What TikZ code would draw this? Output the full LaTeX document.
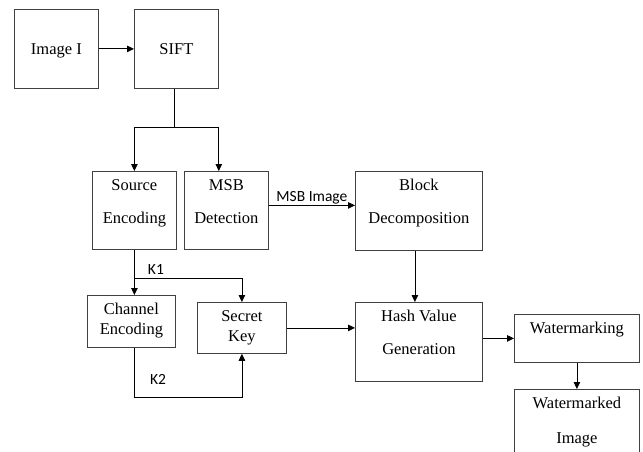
\documentclass[tikz,border=0pt]{standalone}
\usepackage{fontspec}
\setmainfont{Liberation Serif}
\newfontfamily\lblfont{Carlito}
\usetikzlibrary{arrows.meta}

\begin{document}
\begin{tikzpicture}[x=1pt, y=-1pt,
    blk/.style={draw=black!75, line width=0.8pt, inner sep=0pt, align=center,
        anchor=north west, font=\fontsize{16.5}{33}\selectfont},
    arr/.style={line width=0.8pt, -{Triangle[length=7pt,width=6.5pt]}},
    wire/.style={line width=0.8pt},
    lbl/.style={font=\lblfont\fontsize{15.5}{18}\selectfont, inner sep=1pt}]

    % --- Frame ---
    % One unit = one pixel of the reference, y runs downwards
    \useasboundingbox (0,0) rectangle (643,452);
    \clip (0,0) rectangle (643,452);

    % --- Top row ---
    % text height = box top to last baseline, text depth = the rest
    \node[blk, minimum width=84pt, text height=45pt, text depth=34pt] (img) at (14,9) {Image I};
    \node[blk, minimum width=84pt, text height=45pt, text depth=34pt] (sift) at (134,9) {SIFT};

    % --- Second row ---
    \node[blk, minimum width=84pt, text height=52pt, text depth=26pt] (src) at (92,171) {Source\\Encoding};
    \node[blk, minimum width=84pt, text height=52pt, text depth=26pt] (msb) at (184,171) {MSB\\Detection};
    \node[blk, minimum width=127pt, text height=52pt, text depth=27pt] (blkd) at (355,171) {Block\\Decomposition};

    % --- Third row ---
    % Channel and key boxes have tighter lines
    \node[blk, minimum width=88pt, text height=39pt, text depth=13pt, font=\fontsize{16.5}{20}\selectfont] (chan) at (87,295) {Channel\\Encoding};
    \node[blk, minimum width=89pt, text height=39pt, text depth=12pt, font=\fontsize{16.5}{20}\selectfont] (key) at (197,302) {Secret\\Key};
    \node[blk, minimum width=127pt, text height=52pt, text depth=27pt] (hash) at (355,302) {Hash Value\\Generation};
    \node[blk, minimum width=125pt, text height=19pt, text depth=29pt] (wm) at (514,314) {Watermarking};

    % --- Output box (runs off the bottom edge) ---
    \node[blk, minimum width=125pt, text height=54pt, text depth=27pt, font=\fontsize{16.5}{35}\selectfont] (wmi) at (514,389) {Watermarked\\Image};

    % --- Connectors ---
    \draw[arr] (img) -- (sift);

    % Split below SIFT
    \coordinate (fork) at (174,127);
    \draw[wire] (sift.south -| fork) -- (fork);
    \draw[arr] (fork) -| (src.north);
    \draw[arr] (fork) -| (sift.east |- msb.north);

    \draw[arr] ([yshift=5pt]msb.east) -- ([yshift=5pt]msb.east -| blkd.west)
        node[midway, above, lbl] (msblbl) {MSB Image};
    \draw[arr] ([xshift=-4pt]blkd.south) -- ([xshift=-4pt]hash.north);

    % Keys K1 and K2
    \draw[arr] (src.south) -- (src.south |- chan.north);
    \coordinate (k1) at (134,278);
    \draw[arr] (src.south |- k1) -| (key.north)
        node[pos=0.1, above=2pt, lbl] (k1lbl) {K1};
    \coordinate (k2) at (134,397);
    \draw[arr] (src.south |- chan.south) -- (src.south |- k2) -| (key.south);
    \node[lbl] (k2lbl) at (158,379) {K2};

    \draw[arr] (key.east) -- (key.east -| hash.west);
    \draw[arr] (hash.east |- wm.west) -- (wm.west);
    \draw[arr] (wm.south) -- (wmi.north);

\end{tikzpicture}
\end{document}
